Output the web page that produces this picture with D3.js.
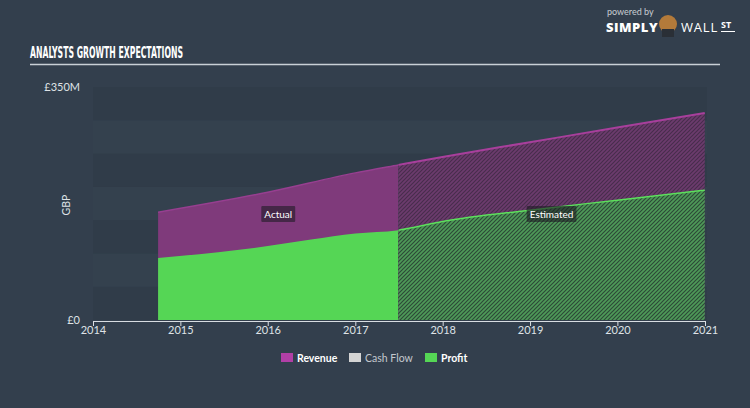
<!DOCTYPE html>
<html><head><meta charset="utf-8">
<script src="https://cdn.jsdelivr.net/npm/d3@7"></script>
<style>
html,body{margin:0;padding:0;background:#333f4d;}
svg{display:block;}
</style></head>
<body>
<svg id="c" width="750" height="408"></svg>
<script>
const years = ["2014","2015","2016","2017","2018","2019","2020","2021"];
const yTickLabels = ["£0","£350M"];
const seriesNames = ["Revenue","Cash Flow","Profit"];
const legendColors = ["#b13fa6","#d4d4d4","#55d655"];
const splitDate = "2017-06-30";
const revenueDates = ["2014-09-30","2016-01-01","2017-01-01","2017-06-30","2017-12-31","2018-12-31","2019-12-31","2020-12-31"];
const revenueValues = [162,192,221,233,245,267,289,311];
const profitDates = ["2014-09-30","2016-01-01","2016-06-30","2017-01-01","2017-06-30","2017-12-31","2018-12-31","2019-12-31","2020-12-31"];
const profitValues = [93,111,121,130,135,148,165,180,195];

const svg = d3.select("#c");
const W = 750, H = 408;
const parse = d3.timeParse("%Y-%m-%d");
const x = d3.scaleTime().domain([new Date(2014,0,1), new Date(2021,0,1)]).range([93,705]);
const y = d3.scaleLinear().domain([0,350]).range([320,87]);

svg.append("rect").attr("width",W).attr("height",H).attr("fill","#333f4d");

const bandVals = d3.range(0,350,50);
svg.append("g").selectAll("rect").data(bandVals).join("rect")
  .attr("x",93).attr("width",614)
  .attr("y",d=>y(d+50)).attr("height",d=>y(d)-y(d+50))
  .attr("fill",(d,i)=> i%2===0 ? "#303c49" : "#34414e");

svg.append("text").attr("x",30).attr("y",58).text("ANALYSTS GROWTH EXPECTATIONS")
  .attr("fill","#ffffff").attr("font-family","'Liberation Sans Narrow','DejaVu Sans Condensed',sans-serif")
  .attr("font-weight","bold").attr("font-size",15).attr("textLength",153).attr("lengthAdjust","spacingAndGlyphs");
svg.append("line").attr("x1",30).attr("x2",720).attr("y1",64.5).attr("y2",64.5)
  .attr("stroke","#c9d0d6").attr("stroke-width",1.5);

const logo = svg.append("g");
logo.append("text").attr("x",607).attr("y",15).text("powered by").attr("fill","#c8cdd2")
  .attr("font-family","Lato,sans-serif").attr("font-size",9);
logo.append("text").attr("x",606).attr("y",32).text("SIMPLY").attr("fill","#ffffff")
  .attr("font-family","'Open Sans',sans-serif").attr("font-weight","800").attr("font-size",13).attr("letter-spacing",0.5);
logo.append("circle").attr("cx",668).attr("cy",24).attr("r",9).attr("fill","#b37a3a");
logo.append("rect").attr("x",662).attr("y",29).attr("width",12).attr("height",8).attr("fill","#2a2f36");
logo.append("text").attr("x",681).attr("y",32).text("WALL").attr("fill","#ffffff")
  .attr("font-family","'Open Sans',sans-serif").attr("font-weight","400").attr("font-size",13).attr("letter-spacing",0.8);
logo.append("text").attr("x",721).attr("y",28).text("ST").attr("fill","#ffffff")
  .attr("font-family","'Open Sans',sans-serif").attr("font-weight","700").attr("font-size",9);
logo.append("line").attr("x1",721).attr("x2",735).attr("y1",31.5).attr("y2",31.5).attr("stroke","#fff").attr("stroke-width",1);

const defs = svg.append("defs");
function hatch(id, base, stripe){
  const p = defs.append("pattern").attr("id",id).attr("patternUnits","userSpaceOnUse")
    .attr("width",4).attr("height",4);
  p.append("rect").attr("width",4).attr("height",4).attr("fill",base);
  p.append("path").attr("d","M-1,1 l2,-2 M0,4 l4,-4 M3,5 l2,-2").attr("stroke",stripe).attr("stroke-width",1.2);
}
hatch("hRev","#6c3b6d","#472c4c");
hatch("hProf","#4e9a58","#2c4a37");

const rev = revenueDates.map((d,i)=>({date:parse(d), v:revenueValues[i]}));
const prof = profitDates.map((d,i)=>({date:parse(d), v:profitValues[i]}));
const split = parse(splitDate);
const xs = x(split);

const area = d3.area().curve(d3.curveMonotoneX).x(d=>x(d.date)).y0(y(0)).y1(d=>y(d.v));
const line = d3.line().curve(d3.curveMonotoneX).x(d=>x(d.date)).y(d=>y(d.v));

defs.append("clipPath").attr("id","cA").append("rect").attr("x",0).attr("y",0).attr("width",xs).attr("height",H);
defs.append("clipPath").attr("id","cE").append("rect").attr("x",xs).attr("y",0).attr("width",W-xs).attr("height",H);

const gA = svg.append("g").attr("clip-path","url(#cA)");
gA.append("path").datum(rev).attr("d",area).attr("fill","#7f3a7b");
gA.append("path").datum(rev).attr("d",line).attr("fill","none").attr("stroke","#973f90").attr("stroke-width",1.5);
gA.append("path").datum(prof).attr("d",area).attr("fill","#55d655");
const gE = svg.append("g").attr("clip-path","url(#cE)");
gE.append("path").datum(rev).attr("d",area).attr("fill","url(#hRev)");
gE.append("path").datum(rev).attr("d",line).attr("fill","none").attr("stroke","#a83f9c").attr("stroke-width",2);
gE.append("path").datum(prof).attr("d",area).attr("fill","url(#hProf)");
gE.append("path").datum(prof).attr("d",line).attr("fill","none").attr("stroke","#5ce05c").attr("stroke-width",1.5);

function tag(cx, cy, txt){
  const g = svg.append("g");
  const t = g.append("text").attr("x",cx).attr("y",cy+3.5).attr("text-anchor","middle").text(txt)
    .attr("fill","#ffffff").attr("font-family","Lato,sans-serif").attr("font-size",10);
  const bb = t.node().getBBox();
  g.insert("rect","text").attr("x",bb.x-3).attr("y",cy-8).attr("width",bb.width+6).attr("height",16)
    .attr("fill","#1e1a24").attr("fill-opacity",0.6).attr("rx",1);
}
const first = rev[0].date, last = rev[rev.length-1].date;
tag((x(first)+xs)/2, 214, "Actual");
tag((xs+x(last))/2, 214, "Estimated");

const xAxis = d3.axisBottom(x).tickValues(years.map(s=>new Date(+s,0,1))).tickFormat((d,i)=>years[i]).tickSize(5).tickSizeOuter(0);
const gx = svg.append("g").attr("transform","translate(0,321)").call(xAxis);
gx.select(".domain").attr("stroke","#d8dde2").attr("stroke-width",1);
gx.selectAll(".tick line").attr("stroke","#d8dde2");
gx.selectAll(".tick text").attr("fill","#dfe3e7").attr("font-family","Lato,sans-serif").attr("font-size",11).attr("dy","0.45em");

const yLabelVals = [0,350];
svg.append("g").selectAll("text").data(yLabelVals).join("text")
  .attr("x",80).attr("y",d=>y(d)+4).attr("text-anchor","end").text((d,i)=>yTickLabels[i])
  .attr("fill","#dfe3e7").attr("font-family","Lato,sans-serif").attr("font-size",11);
svg.append("text").attr("transform","translate(70,205) rotate(-90)").attr("text-anchor","middle").text("GBP")
  .attr("fill","#dfe3e7").attr("font-family","Lato,sans-serif").attr("font-size",10.5);

const legX = [281,349,425];
const lg = svg.append("g").selectAll("g").data(seriesNames).join("g")
  .attr("transform",(d,i)=>`translate(${legX[i]},353)`);
lg.append("rect").attr("width",12).attr("height",9).attr("fill",(d,i)=>legendColors[i]);
lg.append("text").attr("x",16).attr("y",8.5).text(d=>d).attr("fill",(d,i)=> i===1 ? "#c3c8cd" : "#ffffff")
  .attr("font-family","Lato,sans-serif").attr("font-size",10.5).attr("font-weight",(d,i)=> i===1? "normal":"bold");
</script>
</body></html>
